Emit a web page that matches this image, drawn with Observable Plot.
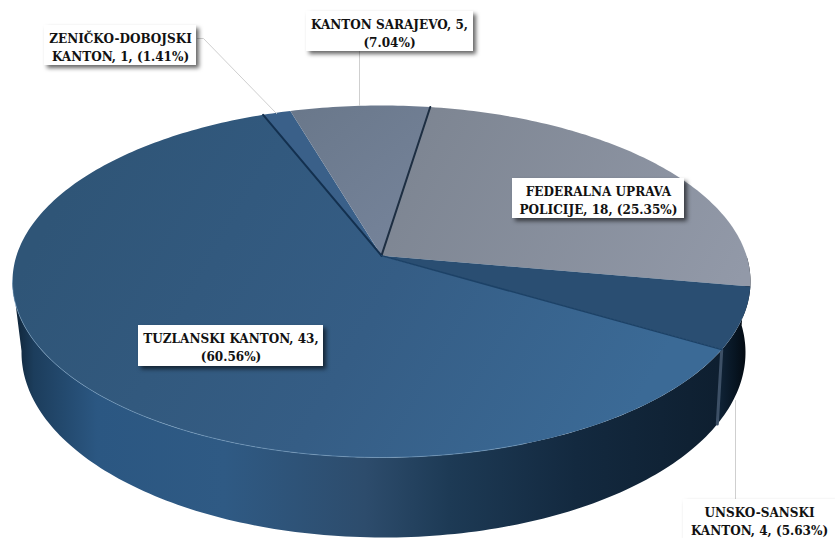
<!DOCTYPE html>
<html>
<head>
<meta charset="utf-8">
<script src="https://cdn.jsdelivr.net/npm/d3@7"></script>
<script src="https://cdn.jsdelivr.net/npm/@observablehq/plot@0.6"></script>
<style>html,body{margin:0;padding:0;background:#fff}svg{display:block}</style>
</head>
<body>
<div id="chart"></div>
<script>
// Data, in drawing order (clockwise)
const categories = ["FEDERALNA UPRAVA POLICIJE", "UNSKO-SANSKI KANTON", "TUZLANSKI KANTON", "ZENIČKO-DOBOJSKI KANTON", "KANTON SARAJEVO"];
const values = [18, 4, 43, 1, 5];
const percents = ["25.35", "5.63", "60.56", "1.41", "7.04"];
const labelLines = [
  "FEDERALNA UPRAVA\nPOLICIJE, 18, (25.35%)",
  "UNSKO-SANSKI\nKANTON, 4, (5.63%)",
  "TUZLANSKI KANTON, 43,\n(60.56%)",
  "ZENIČKO-DOBOJSKI\nKANTON, 1, (1.41%)",
  "KANTON SARAJEVO, 5,\n(7.04%)"
];
const faceFills = ["url(#fFed)", "#2a4e72", "url(#fTuz)", "#3a6089", "url(#fSar)"];

// Layout of the pie and its callouts
const startDeg = 8.8;
const tilt = 0.147;
const top3d = {cx: 381, cy: 281, rx: 369, ry: 176};
const base3d = {cx: 383, cy: 352, rx: 362, ry: 185};
const boxes = [
  {x1: 512, x2: 684, y1: 178, y2: 218, tx: 598, ty: 199},
  {x1: 683, x2: 835, y1: 499, y2: 538, tx: 759, ty: 520},
  {x1: 138, x2: 323, y1: 325, y2: 366, tx: 230.5, ty: 346},
  {x1: 44, x2: 196, y1: 25, y2: 65, tx: 120, ty: 46},
  {x1: 306, x2: 473, y1: 11, y2: 51, tx: 389, ty: 32}
];
const leaders = [
  [{x: 197, y: 38}, {x: 203, y: 38}, {x: 276, y: 113}],
  [{x: 359, y: 51}, {x: 359, y: 105}],
  [{x: 735, y: 400}, {x: 735, y: 499}]
];

// Angles from the values
const total = d3.sum(values);
let acc = startDeg;
const slices = values.map((v, i) => {
  const a0 = acc; acc += v / total * 360;
  return {i, a0, a1: acc};
});

// Clockwise angle from the top -> screen position on a tilted rim
function rim(deg, e) {
  const r = deg * Math.PI / 180, sx = Math.sin(r), cy = Math.cos(r);
  const d = 1 + tilt * cy;
  return {
    x: e.cx + e.rx * sx * Math.sqrt(1 - tilt * tilt) / d,
    y: e.cy - e.ry * (cy + tilt) / d
  };
}
const arc = (a0, a1, e) => {
  const n = Math.max(2, Math.ceil(Math.abs(a1 - a0)));
  return d3.range(n + 1).map(k => rim(a0 + (a1 - a0) * k / n, e));
};
const apex = {x: top3d.cx, y: top3d.cy - top3d.ry * tilt};

const face = s => [apex, ...arc(s.a0, s.a1, top3d), apex];
const wall = (a0, a1) => [...arc(a0, a1, top3d), ...arc(a1, a0, base3d)];
const spoke = a => [apex, rim(a, top3d)];

const defs = () => {
  const d = d3.create("svg:defs");
  const grad = (id, x1, y1, x2, y2, stops) => {
    const g = d.append("linearGradient").attr("id", id).attr("gradientUnits", "userSpaceOnUse")
      .attr("x1", x1).attr("y1", y1).attr("x2", x2).attr("y2", y2);
    stops.forEach(([o, c]) => g.append("stop").attr("offset", o).attr("stop-color", c));
  };
  grad("fTuz", 100, 130, 620, 430, [[0, "#2f5577"], [0.55, "#355d85"], [1, "#3b6a96"]]);
  grad("fFed", 420, 110, 740, 280, [[0, "#7d8592"], [1, "#9299a8"]]);
  grad("fSar", 300, 110, 420, 250, [[0, "#6a788b"], [1, "#76849b"]]);
  grad("sTuz", 12, 0, 717, 0, [[0, "#0e2234"], [0.03, "#1c3d5c"], [0.12, "#2b5782"], [0.3, "#2f5a84"], [0.5, "#2d4c6c"], [0.62, "#1d3a55"], [0.8, "#13293f"], [1, "#0e1f30"]]);
  grad("sUns", 713, 0, 750, 0, [[0, "#12283e"], [0.6, "#071421"], [1, "#02060b"]]);
  return d.node();
};

const marks = [defs];
// Outer walls
marks.push(Plot.line(wall(slices[1].a1, 262), {x: "x", y: "y", fill: "url(#sTuz)", stroke: "none"}));
marks.push(Plot.line(wall(slices[0].a1 - 10, slices[1].a1), {x: "x", y: "y", fill: "url(#sUns)", stroke: "none"}));
// Cut edge between the two walls
marks.push(Plot.line([rim(slices[1].a1, top3d), rim(slices[1].a1, base3d)], {x: "x", y: "y", stroke: "#3d5066", strokeWidth: 3}));
// Faces
slices.forEach(s => marks.push(Plot.line(face(s), {x: "x", y: "y", fill: faceFills[s.i], stroke: "none"})));
// Rim highlight on the front
marks.push(Plot.line(arc(slices[1].a1 + 40, 262, top3d), {x: "x", y: "y", stroke: "#7ea6c8", strokeWidth: 1, strokeOpacity: 0.55}));
// Dark dividers
marks.push(Plot.line(spoke(slices[0].a0), {x: "x", y: "y", stroke: "#1d2e42", strokeWidth: 2}));
marks.push(Plot.line(spoke(slices[2].a1), {x: "x", y: "y", stroke: "#13304f", strokeWidth: 2}));
marks.push(Plot.line(spoke(slices[1].a1), {x: "x", y: "y", stroke: "#1c4166", strokeWidth: 1.5}));
// Leader lines
leaders.forEach(l => marks.push(Plot.line(l, {x: "x", y: "y", stroke: "#cfcfcf", strokeWidth: 1})));
// Callouts
marks.push(Plot.rect(boxes, {x1: "x1", x2: "x2", y1: "y1", y2: "y2", fill: "#fff", imageFilter: "drop-shadow(3px 3px 2px rgba(0,0,0,.6))"}));
marks.push(Plot.text(boxes, {
  x: "tx", y: "ty", text: (d, i) => labelLines[i],
  fontFamily: "DejaVu Serif Condensed, DejaVu Serif", fontWeight: "bold", fontSize: 13.4, lineHeight: 1.36, fill: "#111", textAnchor: "middle"
}));

const chart = Plot.plot({
  width: 835, height: 538, margin: 0,
  x: {domain: [0, 835], range: [0, 835], axis: null},
  y: {domain: [0, 538], range: [0, 538], axis: null},
  style: {background: "#fff"},
  marks
});
document.getElementById("chart").append(chart);
</script>
</body>
</html>
